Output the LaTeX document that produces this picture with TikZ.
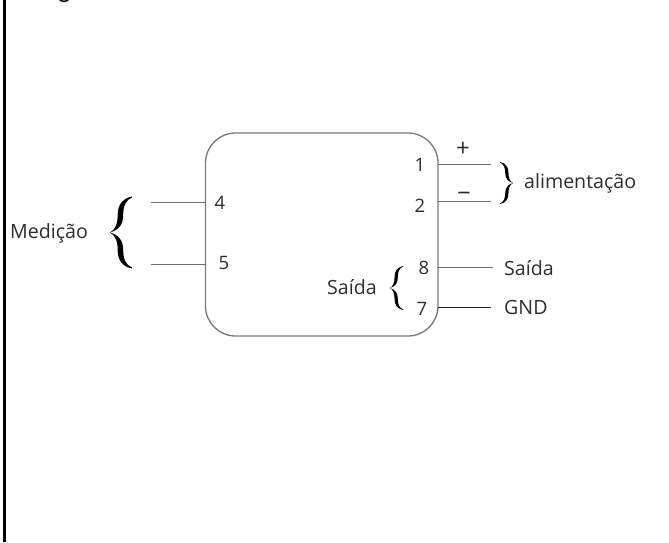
\documentclass[tikz,border=0pt]{standalone}
\usepackage{fontspec}
\setmainfont{Open Sans}
\definecolor{boxgray}{RGB}{120,120,120}
\definecolor{wiregray}{RGB}{110,110,110}
\definecolor{ink}{RGB}{45,45,45}
\newcommand{\bracepath}{(1,-1) .. controls (0.55,-0.95) and (0.35,-0.75) .. (0.35,-0.5) .. controls (0.35,-0.25) and (0.25,-0.08) .. (0,0) .. controls (0.25,0.08) and (0.35,0.25) .. (0.35,0.5) .. controls (0.35,0.75) and (0.55,0.95) .. (1,1) -- (1,0.97) .. controls (0.75,0.92) and (0.6,0.75) .. (0.6,0.5) .. controls (0.6,0.25) and (0.45,0.08) .. (0,0) .. controls (0.45,-0.08) and (0.6,-0.25) .. (0.6,-0.5) .. controls (0.6,-0.75) and (0.75,-0.92) .. (1,-0.97) -- cycle}
\tikzset{
  lbl/.style={font=\fontsize{19.6}{23}\selectfont,text=ink,inner sep=0pt,anchor=base},
  pinlbl/.style={lbl,font=\fontsize{18.5}{22}\selectfont},
  signlbl/.style={lbl,font=\fontsize{24}{28}\selectfont},
  wire/.style={draw=wiregray,line width=1pt},
  device/.style={draw=boxgray,line width=1.3pt,rounded corners=30pt}
}
\begin{document}
\begin{tikzpicture}[x=1pt,y=-1pt]
\useasboundingbox (0,0) rectangle (669,542);
\fill[white] (0,0) rectangle (669,542);
\draw[black,line width=3pt] (4.5,0) -- (4.5,542);
\begin{scope}
\clip (0,0) rectangle (669,542);
\draw[black,line width=1.5pt] (58,-3) .. controls (60,3) and (68,3) .. (70,-3);
\end{scope}
\draw[device] (205.5,133) rectangle (438,336);
\foreach \n/\y in {p1/164,p2/201}{
  \coordinate (\n a) at (438,\y);
  \coordinate (\n b) at (491,\y);
  \draw[wire] (\n a) -- (\n b);
}
\coordinate (p7a) at (438,307); \coordinate (p7b) at (491,307);
\draw[wire,draw=black!85] (p7a) -- (p7b);
\coordinate (p8a) at (438,267); \coordinate (p8b) at (493,267);
\draw[wire] (p8a) -- (p8b);
\coordinate (p4a) at (151,202); \coordinate (p4b) at (205.5,202);
\coordinate (p5a) at (151,264); \coordinate (p5b) at (205.5,264);
\draw[wire] (p4a) -- (p4b);
\draw[wire] (p5a) -- (p5b);
\node[pinlbl] (n1) at (420,171) {1};
\node[pinlbl] (n2) at (420,212) {2};
\node[pinlbl] (n8) at (424,274) {8};
\node[pinlbl] (n7) at (422,315) {7};
\node[pinlbl] (n4) at (220,209) {4};
\node[pinlbl] (n5) at (224,269) {5};
\node[signlbl] (plus) at (463,156) {+};
\node[signlbl] (minus) at (464,201) {−};
\node[lbl,anchor=base west] (alim) at (524,188) {alimentação};
\node[lbl,anchor=base west] (said) at (504,275) {Saída};
\node[lbl,anchor=base west] (gnd) at (504,314) {GND};
\node[lbl,anchor=base west] (med) at (10,238) {Medição};
\node[lbl,anchor=base west] (said2) at (327,294) {Saída};
\fill[black,shift={(110,232.5)},xscale=22,yscale=36] \bracepath;
\fill[black,shift={(513,183)},xscale=-13,yscale=21] \bracepath;
\fill[black,shift={(390,288)},xscale=13,yscale=22] \bracepath;
\end{tikzpicture}
\end{document}
